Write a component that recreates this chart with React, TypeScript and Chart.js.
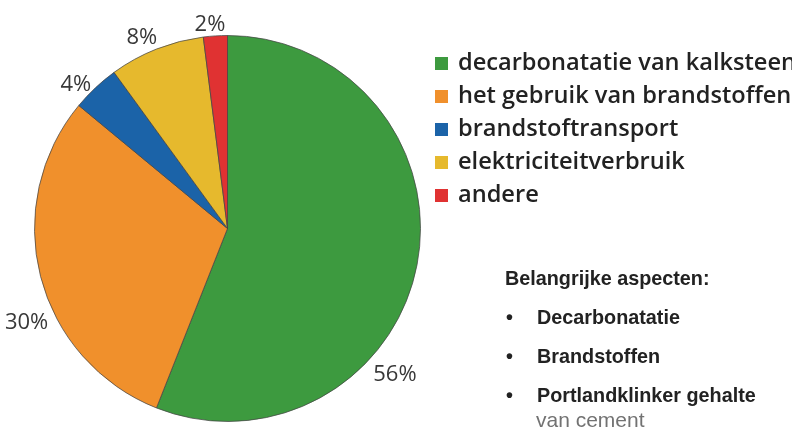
import React, { useEffect, useRef } from "react";
import { Chart, registerables } from "chart.js";

Chart.register(...registerables);

const categories = [
  "decarbonatatie van kalksteen",
  "het gebruik van brandstoffen",
  "brandstoftransport",
  "elektriciteitverbruik",
  "andere",
];
const shares = [56, 30, 4, 8, 2];
const sliceColors = ["#3d9a3f", "#f0902c", "#1b63a8", "#e6b92d", "#e03232"];

const aspectsTitle = "Belangrijke aspecten:";
const aspects = ["Decarbonatatie", "Brandstoffen", "Portlandklinker gehalte"];
const aspectsTail = "van cement";

// label placement along each arc (fraction of arc span) and distance outside the rim
const labelFractions = [0.65, 0.4, 0.27, 0.41, 0.32];
const labelGaps = [29, 29, 16, 16, 12];

const pctLabelPlugin = {
  id: "pctLabels",
  afterDatasetsDraw(chart: any) {
    const ctx = chart.ctx;
    const meta = chart.getDatasetMeta(0);
    const values = chart.data.datasets[0].data as number[];
    ctx.save();
    ctx.font = '22px "Open Sans"';
    ctx.fillStyle = "#383838";
    ctx.textAlign = "center";
    ctx.textBaseline = "middle";
    meta.data.forEach((arc: any, i: number) => {
      const { x, y, startAngle, endAngle, outerRadius } = arc.getProps(
        ["x", "y", "startAngle", "endAngle", "outerRadius"],
        true
      );
      const a = startAngle + (endAngle - startAngle) * labelFractions[i];
      const r = outerRadius + labelGaps[i];
      ctx.fillText(values[i] + "%", x + Math.cos(a) * r, y + Math.sin(a) * r);
    });
    ctx.restore();
  },
};

const legendPlugin = {
  id: "sideLegend",
  afterDraw(chart: any) {
    const ctx = chart.ctx;
    const labels = chart.data.labels as string[];
    const colors = chart.data.datasets[0].backgroundColor as string[];
    ctx.save();
    ctx.font = '600 23.6px "Open Sans"';
    ctx.textBaseline = "middle";
    ctx.textAlign = "left";
    labels.forEach((lab, i) => {
      const cy = 63.5 + i * 33;
      ctx.fillStyle = colors[i];
      ctx.fillRect(435, cy - 6.5, 13, 13);
      ctx.fillStyle = "#222222";
      ctx.fillText(lab, 458, cy);
    });
    ctx.restore();
  },
};

export default function App() {
  const canvasRef = useRef<HTMLCanvasElement | null>(null);

  useEffect(() => {
    document.body.style.margin = "0";
    const canvas = canvasRef.current;
    if (!canvas) return;
    const chart = new Chart(canvas, {
      type: "pie",
      data: {
        labels: categories,
        datasets: [
          {
            data: shares,
            backgroundColor: sliceColors,
            borderColor: "rgba(70,70,70,0.75)",
            borderWidth: 1,
            hoverOffset: 0,
          },
        ],
      },
      options: {
        responsive: false,
        animation: false,
        layout: { padding: { left: 34, top: 35, right: 371, bottom: 8 } },
        plugins: {
          legend: { display: false },
          tooltip: { enabled: false },
        },
      },
      plugins: [pctLabelPlugin, legendPlugin],
    });
    return () => chart.destroy();
  }, []);

  const textStyle: React.CSSProperties = {
    position: "absolute",
    fontFamily: '"Liberation Sans", Arial, sans-serif',
    fontSize: 19.8,
    fontWeight: 700,
    color: "#222222",
    whiteSpace: "nowrap",
    lineHeight: "20px",
  };

  return (
    <div
      style={{
        position: "relative",
        width: 792,
        height: 430,
        overflow: "hidden",
        background: "#ffffff",
      }}
    >
      <canvas ref={canvasRef} width={792} height={430} style={{ display: "block" }} />
      <div style={{ ...textStyle, left: 505, top: 268 }}>{aspectsTitle}</div>
      {aspects.map((t, i) => (
        <React.Fragment key={t}>
          <div style={{ ...textStyle, left: 506, top: 307 + i * 39 }}>•</div>
          <div style={{ ...textStyle, left: 537, top: 307 + i * 39 }}>{t}</div>
        </React.Fragment>
      ))}
      <div
        style={{
          ...textStyle,
          left: 536,
          top: 410,
          fontSize: 21,
          fontWeight: 400,
          color: "#727272",
        }}
      >
        {aspectsTail}
      </div>
    </div>
  );
}
